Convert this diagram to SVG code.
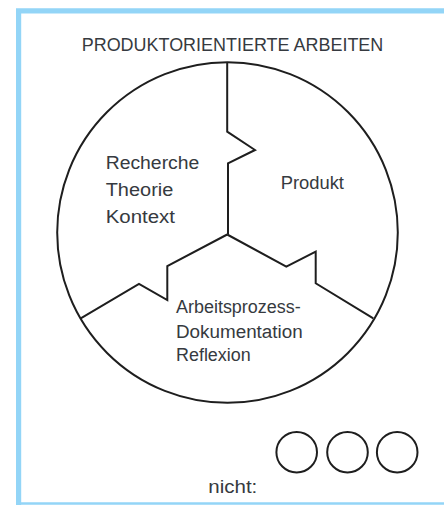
<svg xmlns="http://www.w3.org/2000/svg" width="444" height="505" viewBox="0 0 444 505">
<style>
.t{font-family:"Liberation Sans",Arial,sans-serif;fill:#363a40;font-size:18px}
.ln{fill:none;stroke:#1e1e1e;stroke-width:2;stroke-linejoin:miter}
.frame{fill:none;stroke:#93d5f7}
</style>
<rect width="444" height="505" fill="#ffffff"/>
<g id="frame">
<path class="frame" d="M444 10.8H18.6V505" stroke-width="5.2"/>
<line class="frame" x1="16" y1="503.5" x2="444" y2="503.5" stroke-width="2.6"/>
</g>
<g id="title"><text class="t" x="81.7" y="50.5" textLength="301.6" lengthAdjust="spacingAndGlyphs">PRODUKTORIENTIERTE ARBEITEN</text></g>
<g id="circle"><circle class="ln" cx="227.5" cy="232.5" r="170.3"/></g>
<g id="connectors">
<path class="ln" d="M227.2 62.5V131.7L255 150L228 163.3V234.5"/>
<path class="ln" d="M227.2 234.5L167.3 266V300L139 284L80.7 318.3"/>
<path class="ln" d="M227.2 234.5L286.3 266.7L315.7 251.7V283.3L373.3 318.3"/>
</g>
<g id="recherche">
<text class="t" x="105.7" y="168.8" font-size="19" textLength="93.6" lengthAdjust="spacingAndGlyphs">Recherche</text>
<text class="t" x="105.7" y="195.8" font-size="19" textLength="67.6" lengthAdjust="spacingAndGlyphs">Theorie</text>
<text class="t" x="105.7" y="222.8" font-size="19" textLength="69.3" lengthAdjust="spacingAndGlyphs">Kontext</text>
</g>
<g id="produkt"><text class="t" x="280.7" y="189.3" font-size="17" textLength="63.3" lengthAdjust="spacingAndGlyphs">Produkt</text></g>
<g id="arbeitsprozess">
<text class="t" x="176" y="313.3" textLength="124.7" lengthAdjust="spacingAndGlyphs">Arbeitsprozess-</text>
<text class="t" x="176" y="338.3" textLength="126.7" lengthAdjust="spacingAndGlyphs">Dokumentation</text>
<text class="t" x="176" y="361" textLength="74.7" lengthAdjust="spacingAndGlyphs">Reflexion</text>
</g>
<g id="rating">
<text class="t" x="208.3" y="492.7" textLength="49" lengthAdjust="spacingAndGlyphs">nicht:</text>
<circle class="ln" cx="296.7" cy="452.2" r="20.3"/>
<circle class="ln" cx="347.5" cy="452.2" r="20.3"/>
<circle class="ln" cx="397.2" cy="452.2" r="20.3"/>
</g>
</svg>
